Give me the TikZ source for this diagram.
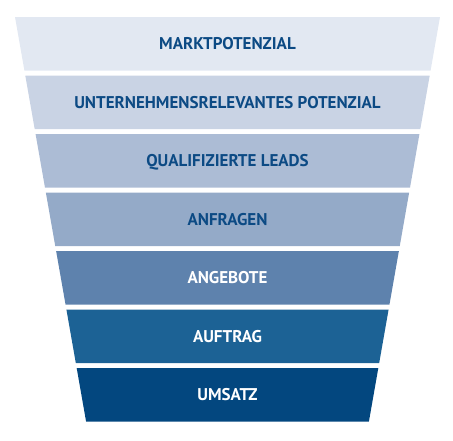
\documentclass[tikz,border=0pt]{standalone}
\usepackage{fontspec}
\setsansfont{PT Sans}
\definecolor{levelA}{RGB}{226,232,242}
\definecolor{levelB}{RGB}{201,211,228}
\definecolor{levelC}{RGB}{172,188,213}
\definecolor{levelD}{RGB}{148,170,200}
\definecolor{levelE}{RGB}{94,130,173}
\definecolor{levelF}{RGB}{28,98,149}
\definecolor{levelG}{RGB}{3,71,127}
\definecolor{labeldark}{RGB}{12,74,132}
\begin{document}
\begin{tikzpicture}[x=1pt, y=-1pt]
\tikzstyle{bandtext} = [font=\sffamily\bfseries\fontsize{17}{20}\selectfont,
    anchor=base, inner sep=0pt]
\useasboundingbox (0,0) rectangle (453,440);
    % Funnel bands
    \foreach \i/\col/\tcol/\txt/\nm in {
        0/levelA/labeldark/MARKTPOTENZIAL/markt,
        1/levelB/labeldark/UNTERNEHMENSRELEVANTES POTENZIAL/relevant,
        2/levelC/labeldark/QUALIFIZIERTE LEADS/leads,
        3/levelD/labeldark/ANFRAGEN/anfragen,
        4/levelE/white/ANGEBOTE/angebote,
        5/levelF/white/AUFTRAG/auftrag,
        6/levelG/white/UMSATZ/umsatz}{
        \pgfmathsetmacro{\yt}{17+58.5*\i}
        \pgfmathsetmacro{\yb}{\yt+53.5}
        \pgfmathsetmacro{\wt}{212.5-0.17574*(\yt-17)}
        \pgfmathsetmacro{\wb}{212.5-0.17574*(\yb-17)}
        \fill[\col] ({227.5-\wt},\yt) -- ({227.5+\wt},\yt)
            -- ({227.5+\wb},\yb) -- ({227.5-\wb},\yb) -- cycle;
        \node[bandtext, text=\tcol] (\nm) at (227.5,{\yt+26.75+6}) {\txt};
    }
\end{tikzpicture}
\end{document}
